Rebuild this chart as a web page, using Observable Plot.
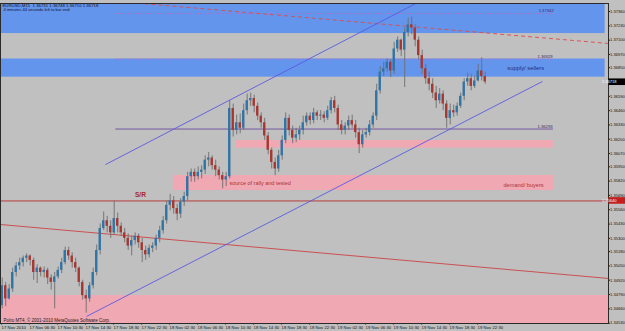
<!DOCTYPE html>
<html><head><meta charset="utf-8">
<script src="https://cdn.jsdelivr.net/npm/d3@7"></script>
<script src="https://cdn.jsdelivr.net/npm/@observablehq/plot@0.6"></script>
<style>
html,body{margin:0;padding:0;background:#c0c0c0;overflow:hidden;width:625px;height:331px}
svg{display:block}
</style>
</head><body><div id="chart"></div>
<script>
// ---- data (EURUSD, 30-minute candles) ----
const barStart = "2010-11-17T02:30Z";
const open = [1.3469,1.3487,1.3475,1.3484,1.3499,1.3505,1.3508,1.3512,1.3514,1.3510,
1.3499,1.3503,1.3499,1.3501,1.3494,1.3490,1.3495,1.3501,1.3508,1.3519,
1.3514,1.3508,1.3503,1.3490,1.3478,1.3475,1.3487,1.3499,1.3519,1.3539,
1.3546,1.3541,1.3535,1.3548,1.3541,1.3535,1.3530,1.3523,1.3528,1.3532,
1.3526,1.3519,1.3515,1.3521,1.3523,1.3530,1.3537,1.3546,1.3560,1.3564,
1.3557,1.3552,1.3563,1.3568,1.3586,1.3590,1.3586,1.3590,1.3592,1.3601,
1.3603,1.3596,1.3592,1.3587,1.3583,1.3586,1.3648,1.3628,1.3635,1.3630,
1.3646,1.3655,1.3657,1.3650,1.3641,1.3635,1.3623,1.3610,1.3599,1.3593,
1.3605,1.3619,1.3639,1.3628,1.3621,1.3624,1.3628,1.3635,1.3641,1.3637,
1.3644,1.3641,1.3642,1.3639,1.3646,1.3655,1.3648,1.3633,1.3628,1.3632,
1.3637,1.3633,1.3626,1.3615,1.3624,1.3626,1.3633,1.3641,1.3664,1.3681,
1.3684,1.3690,1.3682,1.3702,1.3710,1.3701,1.3717,1.3724,1.3721,1.3710,
1.3696,1.3684,1.3675,1.3670,1.3662,1.3655,1.3661,1.3652,1.3639,1.3646,
1.3644,1.3650,1.3659,1.3672,1.3675,1.3668,1.3673,1.3682,1.3677];
const high = [1.3494,1.3490,1.3488,1.3503,1.3508,1.3512,1.3514,1.3516,1.3515,1.3512,
1.3506,1.3504,1.3504,1.3503,1.3497,1.3499,1.3504,1.3512,1.3522,1.3522,
1.3517,1.3512,1.3504,1.3492,1.3483,1.3490,1.3503,1.3524,1.3543,1.3554,
1.3550,1.3546,1.3564,1.3553,1.3544,1.3539,1.3534,1.3532,1.3535,1.3534,
1.3530,1.3523,1.3524,1.3526,1.3533,1.3541,1.3550,1.3564,1.3570,1.3568,
1.3561,1.3566,1.3572,1.3590,1.3593,1.3593,1.3595,1.3596,1.3605,1.3608,
1.3605,1.3601,1.3595,1.3590,1.3590,1.3655,1.3652,1.3642,1.3643,1.3652,
1.3661,1.3662,1.3660,1.3653,1.3644,1.3639,1.3626,1.3612,1.3603,1.3610,
1.3623,1.3644,1.3642,1.3632,1.3630,1.3632,1.3641,1.3644,1.3644,1.3648,
1.3646,1.3646,1.3645,1.3650,1.3658,1.3659,1.3651,1.3637,1.3635,1.3641,
1.3642,1.3637,1.3630,1.3628,1.3630,1.3637,1.3644,1.3670,1.3686,1.3690,
1.3693,1.3692,1.3708,1.3713,1.3711,1.3721,1.3730,1.3731,1.3724,1.3713,
1.3701,1.3688,1.3681,1.3675,1.3668,1.3666,1.3664,1.3655,1.3652,1.3651,
1.3653,1.3662,1.3675,1.3680,1.3679,1.3677,1.3688,1.3694,1.3681];
const low = [1.3466,1.3468,1.3474,1.3481,1.3495,1.3501,1.3504,1.3508,1.3505,1.3492,
1.3489,1.3495,1.3494,1.3488,1.3483,1.3466,1.3493,1.3498,1.3506,1.3510,
1.3503,1.3499,1.3486,1.3474,1.3462,1.3472,1.3484,1.3496,1.3515,1.3537,
1.3535,1.3530,1.3533,1.3535,1.3532,1.3526,1.3519,1.3514,1.3524,1.3521,
1.3508,1.3510,1.3512,1.3517,1.3519,1.3526,1.3534,1.3543,1.3555,1.3552,
1.3546,1.3548,1.3559,1.3564,1.3581,1.3581,1.3583,1.3584,1.3588,1.3595,
1.3592,1.3586,1.3583,1.3575,1.3577,1.3584,1.3622,1.3624,1.3625,1.3628,
1.3642,1.3650,1.3644,1.3637,1.3630,1.3619,1.3606,1.3593,1.3587,1.3590,
1.3601,1.3616,1.3623,1.3616,1.3617,1.3619,1.3624,1.3632,1.3633,1.3634,
1.3637,1.3637,1.3635,1.3637,1.3643,1.3644,1.3628,1.3624,1.3624,1.3628,
1.3630,1.3621,1.3607,1.3612,1.3621,1.3623,1.3630,1.3637,1.3661,1.3677,
1.3681,1.3676,1.3679,1.3699,1.3695,1.3667,1.3713,1.3715,1.3704,1.3692,
1.3679,1.3670,1.3664,1.3657,1.3648,1.3652,1.3646,1.3630,1.3633,1.3640,
1.3641,1.3648,1.3655,1.3668,1.3664,1.3666,1.3672,1.3673,1.3670];
const close = [1.3487,1.3475,1.3484,1.3499,1.3505,1.3508,1.3512,1.3514,1.3510,1.3499,
1.3503,1.3499,1.3501,1.3494,1.3490,1.3495,1.3501,1.3508,1.3519,1.3514,
1.3508,1.3503,1.3490,1.3478,1.3475,1.3487,1.3499,1.3519,1.3539,1.3546,
1.3541,1.3535,1.3548,1.3541,1.3535,1.3530,1.3523,1.3528,1.3532,1.3526,
1.3519,1.3515,1.3521,1.3523,1.3530,1.3537,1.3546,1.3560,1.3564,1.3557,
1.3552,1.3563,1.3568,1.3586,1.3590,1.3586,1.3590,1.3592,1.3601,1.3603,
1.3596,1.3592,1.3587,1.3583,1.3586,1.3648,1.3628,1.3635,1.3630,1.3646,
1.3655,1.3657,1.3650,1.3641,1.3635,1.3623,1.3610,1.3599,1.3593,1.3605,
1.3619,1.3639,1.3628,1.3621,1.3624,1.3628,1.3635,1.3641,1.3637,1.3644,
1.3641,1.3642,1.3639,1.3646,1.3655,1.3648,1.3633,1.3628,1.3632,1.3637,
1.3633,1.3626,1.3615,1.3624,1.3626,1.3633,1.3641,1.3664,1.3681,1.3684,
1.3690,1.3682,1.3702,1.3710,1.3701,1.3717,1.3724,1.3721,1.3710,1.3696,
1.3684,1.3675,1.3670,1.3662,1.3655,1.3661,1.3652,1.3639,1.3646,1.3644,
1.3650,1.3659,1.3672,1.3675,1.3668,1.3673,1.3682,1.3677,1.3672];

const priceTicks = [1.37360,1.37230,1.37100,1.36970,1.36850,1.36590,1.36460,1.36330,1.36200,1.36070,1.35950,1.35820,1.35690,1.35560,1.35430,1.35300,1.35180,1.35050,1.34920,1.34790,1.34660,1.34530];
const timeTicks = ["2010-11-17T02:30Z","2010-11-17T06:30Z","2010-11-17T10:30Z","2010-11-17T14:30Z","2010-11-17T18:30Z","2010-11-17T22:30Z","2010-11-18T02:30Z","2010-11-18T06:30Z","2010-11-18T10:30Z","2010-11-18T14:30Z","2010-11-18T18:30Z","2010-11-18T22:30Z","2010-11-19T02:30Z","2010-11-19T06:30Z","2010-11-19T10:30Z","2010-11-19T14:30Z","2010-11-19T18:30Z","2010-11-19T22:30Z"];
const timeLabels = ["17 Nov 2010","17 Nov 06:30","17 Nov 10:30","17 Nov 14:30","17 Nov 18:30","17 Nov 22:30","18 Nov 02:30","18 Nov 06:30","18 Nov 10:30","18 Nov 14:30","18 Nov 18:30","18 Nov 22:30","19 Nov 02:30","19 Nov 06:30","19 Nov 10:30","19 Nov 14:30","19 Nov 18:30","19 Nov 22:30"];

const blueZones = [
  {from:"2010-11-17T00:00Z", to:"2010-11-20T16:50Z", low:1.37160, high:1.37500},
  {from:"2010-11-17T00:00Z", to:"2010-11-20T16:50Z", low:1.36764, high:1.36929}
];
const pinkZones = [
  {from:"2010-11-18T12:10Z", to:"2010-11-20T09:27Z", low:1.36119, high:1.36189},
  {from:"2010-11-18T03:09Z", to:"2010-11-20T09:27Z", low:1.35735, high:1.35871},
  {from:"2010-11-17T00:00Z", to:"2010-11-20T20:00Z", low:1.34400, high:1.34781}
];
const channelLines = [
  {t1:"2010-11-17T17:27Z", p1:1.35970, t2:"2010-11-19T14:36Z", p2:1.37460},
  {t1:"2010-11-17T14:45Z", p1:1.34591, t2:"2010-11-20T07:53Z", p2:1.36725}
];
const redTrend = [{t1:"2010-11-17T02:27Z", p1:1.35426, t2:"2010-11-20T17:19Z", p2:1.34936}];
const redDashed = [{t1:"2010-11-17T21:02Z", p1:1.37442, t2:"2010-11-20T17:19Z", p2:1.37070}];
const levelFrom = "2010-11-17T18:56Z", levelTo = "2010-11-20T09:27Z";
const dottedLevels = [1.37342, 1.36929];
const solidLevels = [1.36293];
const levelLabels = [
  {t:"2010-11-20T07:20Z", p:1.37372, text:"1.37342"},
  {t:"2010-11-20T07:10Z", p:1.36952, text:"1.36929"},
  {t:"2010-11-20T07:10Z", p:1.36316, text:"1.36293"}
];
const srLevel = 1.35640;
const lastPrice = 1.36718;
const srNote = [{t:"2010-11-17T21:40Z", p:1.35698, text:"S/R"}];
const notes = [
  {t:"2010-11-18T11:10Z", p:1.35798, text:"source of rally and tested", color:"#b03232", size:5.5},
  {t:"2010-11-20T02:19Z", p:1.35780, text:"demand/ buyers", color:"#b03232", size:5.6},
  {t:"2010-11-20T02:52Z", p:1.36847, text:"supply/ sellers", color:"#1f2f80", size:5.8}
];
const header1 = "EURUSD,M15  1.36731 1.36748 1.36710 1.36718";
const header2 = "4 minutes 44 seconds left to bar end";
const footer = "PoIro MT4, © 2001-2010 MetaQuotes Software Corp.";

// ---- build ----
const MIN = 60000;
const t0 = new Date(barStart).getTime();
const bars = open.map((o, i) => ({
  t: new Date(t0 + i * 30 * MIN), o, h: high[i], l: low[i], c: close[i]
}));
const mid = d => new Date(d.t.getTime() + 12 * MIN);
const D = s => new Date(s);
const labelOf = new Map(timeTicks.map((s, i) => [D(s).getTime(), timeLabels[i]]));

const font = "'Liberation Sans', Arial, sans-serif";

const plot = Plot.plot({
  width: 625, height: 331,
  marginLeft: 0, marginRight: 17, marginTop: 3, marginBottom: 8,
  style: {background: "#c0c0c0", fontFamily: font, overflow: "hidden"},
  x: {type: "utc", domain: [D("2010-11-17T02:27:26Z"), D("2010-11-20T17:18:54Z")]},
  y: {domain: [1.34527, 1.37433]},
  marks: [
    Plot.rect(blueZones, {x1: d => D(d.from), x2: d => D(d.to), y1: "low", y2: "high", fill: "#6495ed", clip: true}),
    Plot.rect(pinkZones, {x1: d => D(d.from), x2: d => D(d.to), y1: "low", y2: "high", fill: "#f0a8b3", clip: true}),
    Plot.ruleY(dottedLevels, {y: d => d, x1: D(levelFrom), x2: D(levelTo), stroke: "#c75fb5", strokeWidth: 0.8, strokeDasharray: "1,1.5"}),
    Plot.ruleY(solidLevels, {y: d => d, x1: D(levelFrom), x2: D(levelTo), stroke: "#6c4c9c", strokeWidth: 0.9}),
    Plot.ruleY([srLevel], {stroke: "#b82c2c", strokeWidth: 0.9}),
    Plot.link(redTrend, {x1: d => D(d.t1), y1: "p1", x2: d => D(d.t2), y2: "p2", stroke: "#cc4444", strokeWidth: 0.9, clip: true}),
    Plot.link(redDashed, {x1: d => D(d.t1), y1: "p1", x2: d => D(d.t2), y2: "p2", stroke: "#e04a4a", strokeWidth: 0.9, strokeDasharray: "4,3", clip: true}),
    Plot.link(channelLines, {x1: d => D(d.t1), y1: "p1", x2: d => D(d.t2), y2: "p2", stroke: "#5a5ae0", strokeWidth: 0.9, clip: true}),
    Plot.ruleX(bars, {x: mid, y1: "l", y2: "h", stroke: "#6e6e6e", strokeWidth: 0.9}),
    Plot.rect(bars, {
      x1: d => new Date(d.t.getTime() + 2 * MIN), x2: d => new Date(d.t.getTime() + 22 * MIN),
      y1: "o", y2: "c",
      fill: d => d.c >= d.o ? "#2f74a6" : "#a8352e"
    }),
    Plot.text(levelLabels, {x: d => D(d.t), y: "p", text: "text", textAnchor: "start", fill: "#3a2a5a", fontSize: 4.2}),
    Plot.text(srNote, {x: d => D(d.t), y: "p", text: "text", textAnchor: "start", fill: "#a52a2a", fontSize: 6.6, fontWeight: "bold"}),
    Plot.text(notes, {x: d => D(d.t), y: "p", text: "text", textAnchor: "start", fill: d => d.color, fontSize: d => d.size}),
    Plot.text([header1], {frameAnchor: "top-left", dx: 2, dy: 0.5, lineAnchor: "top", textAnchor: "start", text: d => d, fontSize: 4.3, fill: "#101010"}),
    Plot.text([header2], {frameAnchor: "top-left", dx: 3, dy: 5, lineAnchor: "top", textAnchor: "start", text: d => d, fontSize: 4.1, fill: "#101030"}),
    Plot.text([footer], {frameAnchor: "bottom-left", dx: 3, dy: -2, lineAnchor: "bottom", textAnchor: "start", text: d => d, fontSize: 4.5, fill: "#202020"}),
    Plot.axisY(priceTicks, {anchor: "right", tickFormat: d => d.toFixed(5), tickSize: 1, tickPadding: 0.5, fontSize: 4.05, stroke: "#222", fill: "#111"}),
    Plot.axisX(timeTicks.map(D), {anchor: "bottom", tickFormat: d => labelOf.get(d.getTime()), tickSize: 1.5, tickPadding: 0.5, textAnchor: "start", dx: 0.8, fontSize: 4.3, stroke: "#222", fill: "#111"}),
    Plot.frame({stroke: "#2a2a2a", strokeWidth: 1})
  ]
});

// price boxes on the right axis, positioned by the plot's own y scale
const ys = plot.scale("y");
const svg = d3.select(plot);
[{p: lastPrice, bg: "#000000"}, {p: srLevel, bg: "#c41e1e"}].forEach(b => {
  const yy = ys.apply(b.p);
  svg.append("rect").attr("x", 608.5).attr("y", yy - 3.3).attr("width", 16.5).attr("height", 6.6).attr("fill", b.bg);
  svg.append("text").attr("x", 609.3).attr("y", yy).attr("dy", "0.35em").attr("fill", "#fff")
    .attr("font-size", 4.05).attr("font-family", font).text(b.p.toFixed(5));
});
document.getElementById("chart").appendChild(plot);
</script>
</body></html>
